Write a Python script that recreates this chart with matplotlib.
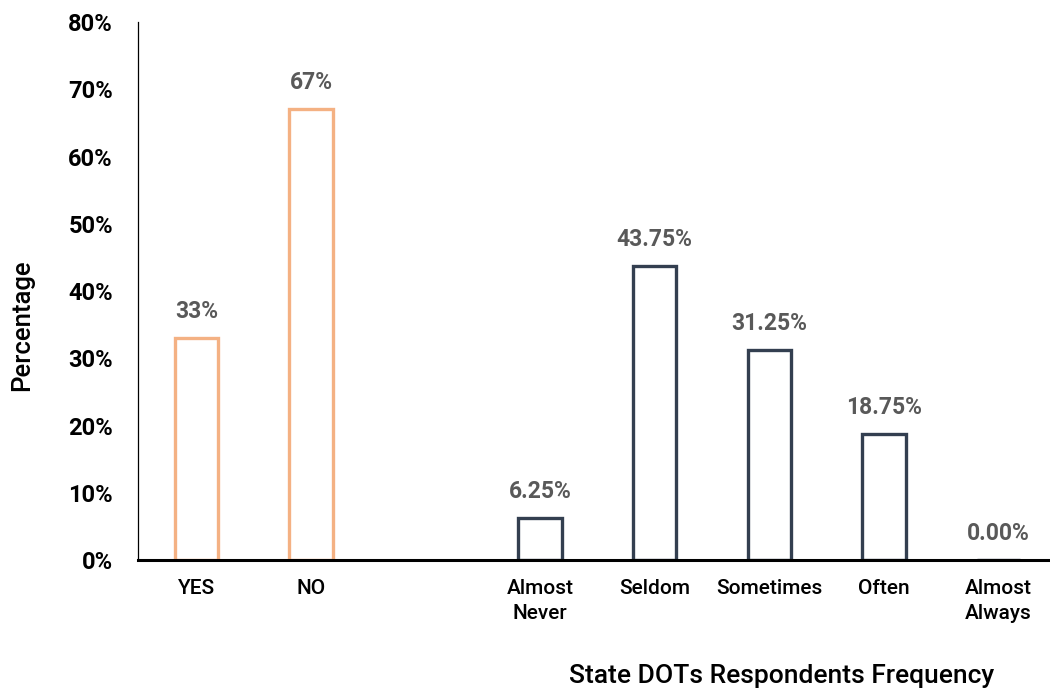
import matplotlib.pyplot as plt
import numpy as np

plt.rcParams['font.family'] = ['Roboto', 'DejaVu Sans']

# data
categories = ["YES", "NO", "Almost\nNever", "Seldom", "Sometimes", "Often", "Almost\nAlways"]
positions = [0, 1, 3, 4, 5, 6, 7]
values = [33, 67, 6.25, 43.75, 31.25, 18.75, 0.0]
labels = ["33%", "67%", "6.25%", "43.75%", "31.25%", "18.75%", "0.00%"]
edge_colors = ["#F4B183", "#F4B183", "#333F50", "#333F50", "#333F50", "#333F50", "#333F50"]
y_ticks = [0, 10, 20, 30, 40, 50, 60, 70, 80]

fig = plt.figure(figsize=(10.5, 6.9), dpi=100)
ax = fig.add_axes([0.1314, 0.1884, 0.8686, 0.7796])

bars = ax.bar(positions, values, width=0.38, facecolor="white",
              edgecolor=edge_colors, linewidth=2.4, zorder=2)

for x, v, lab in zip(positions, values, labels):
    ax.annotate(lab, (x, v), xytext=(0, 11), textcoords="offset points",
                ha="center", va="bottom", fontsize=16.5, fontweight="bold",
                color="#595959")

ax.set_xlim(-0.51, 7.45)
ax.set_ylim(0, 80)
ax.set_yticks(y_ticks)
ax.set_yticklabels([f"{t}%" for t in y_ticks], fontsize=17, fontweight="bold")
ax.set_xticks(positions)
ax.set_xticklabels(categories, fontsize=15, fontweight="medium", linespacing=1.35)
ax.tick_params(axis="both", length=0)
ax.tick_params(axis="y", pad=18)
ax.tick_params(axis="x", pad=14)

ax.spines["top"].set_visible(False)
ax.spines["right"].set_visible(False)
ax.spines["left"].set_linewidth(0.9)
ax.spines["bottom"].set_linewidth(2.2)
ax.spines["bottom"].set_zorder(3)

fig.text(0.744, 0.003, "State DOTs Respondents Frequency", ha="center", va="bottom",
         fontsize=19, fontweight="medium")
fig.text(0.021, 0.529, "Percentage", rotation=90, ha="center", va="center",
         fontsize=18.5, fontweight="medium")

fig.savefig("out.png", dpi=100)
